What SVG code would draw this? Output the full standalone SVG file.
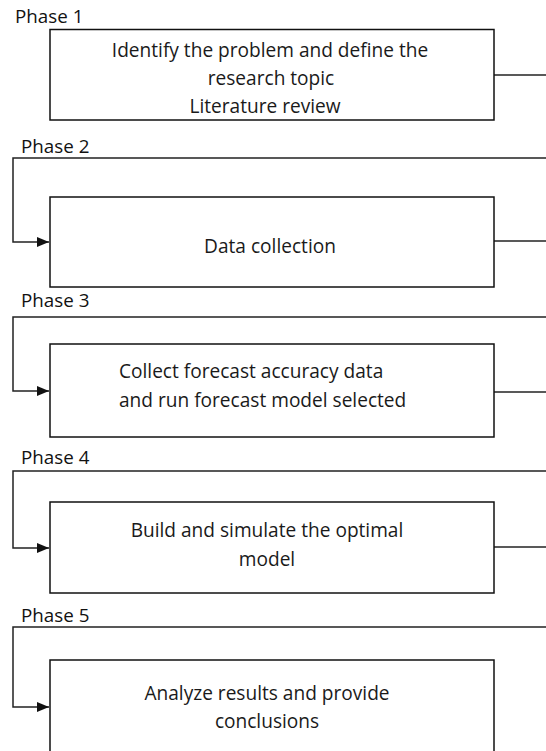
<svg xmlns="http://www.w3.org/2000/svg" width="546" height="751" viewBox="0 0 546 751">
<style>
text{font-family:"Open Sans","Liberation Sans",sans-serif;font-size:19.1px;fill:#1a1a1a}
.lbl{font-size:18.8px;fill:#111}
.box{fill:#fff;stroke:#111;stroke-width:1.5}
.con{fill:none;stroke:#222;stroke-width:1.5}
.c{text-anchor:middle}
</style>
<defs>
<marker id="ah" markerWidth="12" markerHeight="10" refX="12" refY="5" orient="auto" markerUnits="userSpaceOnUse">
<path d="M0,0 L12,5 L0,10 Z" fill="#111"/>
</marker>
</defs>
<g id="connectors">
<path class="con" d="M494,75 H546"/>
<path class="con" d="M546,158 H13 V242 H49" marker-end="url(#ah)"/>
<path class="con" d="M494,241 H546"/>
<path class="con" d="M546,317 H13 V391 H49" marker-end="url(#ah)"/>
<path class="con" d="M494,392 H546"/>
<path class="con" d="M546,471 H13 V548 H49" marker-end="url(#ah)"/>
<path class="con" d="M494,547 H546"/>
<path class="con" d="M546,627 H13 V707 H49" marker-end="url(#ah)"/>
</g>
<g id="phase1">
<text class="lbl" x="15" y="23">Phase 1</text>
<rect class="box" x="50" y="29.5" width="444" height="90.5"/>
<text class="c" x="270" y="57">Identify the problem and define the</text>
<text class="c" x="271" y="85">research topic</text>
<text class="c" x="265" y="113">Literature review</text>
</g>
<g id="phase2">
<text class="lbl" x="21" y="153">Phase 2</text>
<rect class="box" x="50" y="197" width="444" height="90"/>
<text class="c" x="270" y="253">Data collection</text>
</g>
<g id="phase3">
<text class="lbl" x="21" y="307">Phase 3</text>
<rect class="box" x="50" y="344" width="444" height="93"/>
<text x="119" y="378">Collect forecast accuracy data</text>
<text x="119" y="407">and run forecast model selected</text>
</g>
<g id="phase4">
<text class="lbl" x="21" y="464">Phase 4</text>
<rect class="box" x="50" y="502" width="444" height="91"/>
<text class="c" x="267" y="537">Build and simulate the optimal</text>
<text class="c" x="267" y="566">model</text>
</g>
<g id="phase5">
<text class="lbl" x="21" y="622">Phase 5</text>
<rect class="box" x="50" y="660" width="444" height="100"/>
<text class="c" x="267" y="700">Analyze results and provide</text>
<text class="c" x="267" y="728">conclusions</text>
</g>
</svg>
